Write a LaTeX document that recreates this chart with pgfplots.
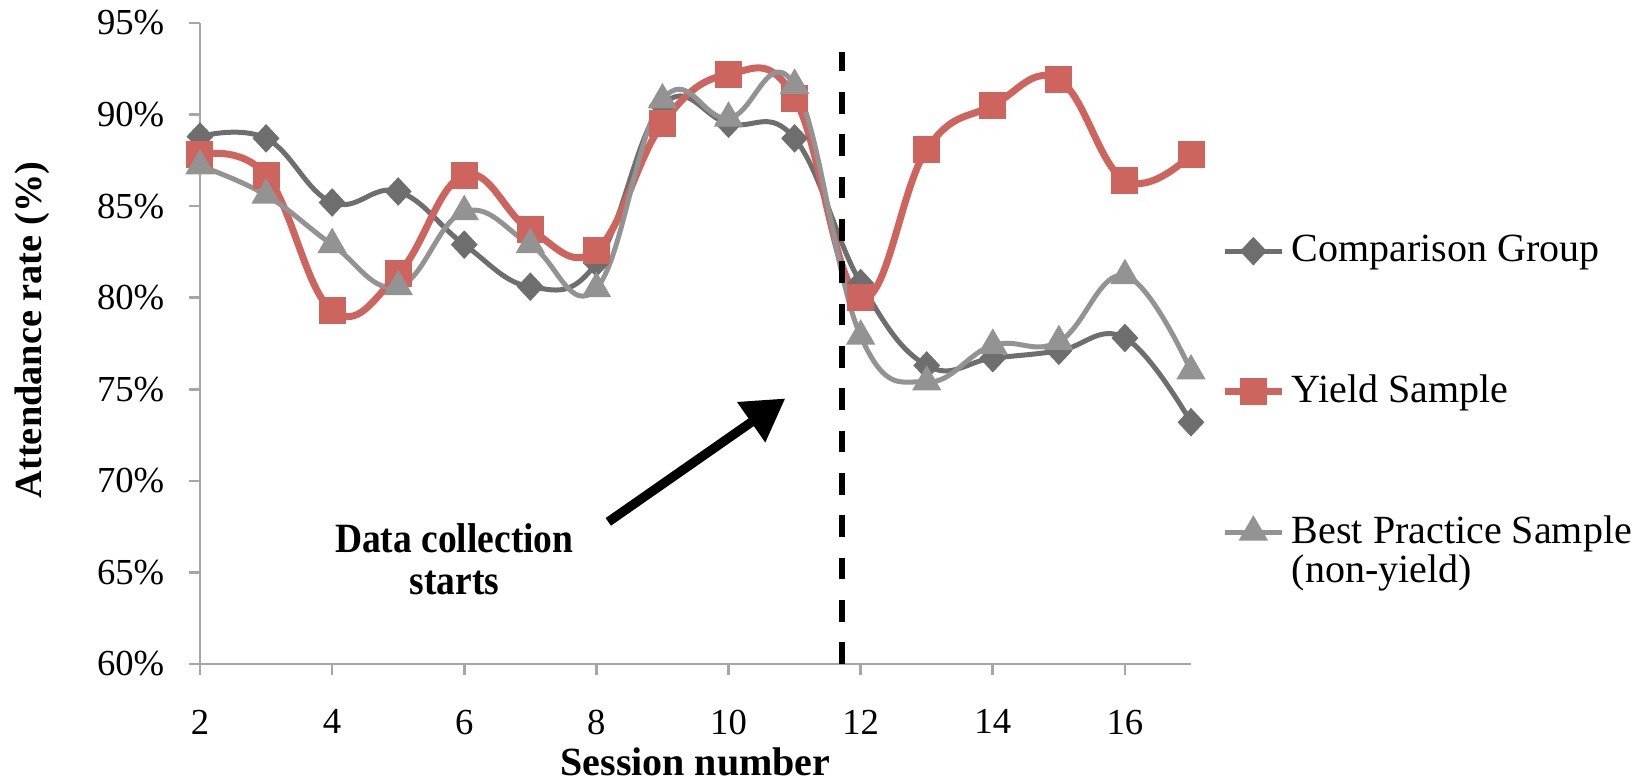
\documentclass[border=0pt]{standalone}
\usepackage{fontspec}
\setmainfont{Liberation Serif}
\usepackage{pgfplots}
\pgfplotsset{compat=1.18}
\usetikzlibrary{arrows.meta}

\definecolor{compgray}{RGB}{110,110,110}
\definecolor{yieldred}{RGB}{205,101,94}
\definecolor{bestgray}{RGB}{147,147,147}
\definecolor{axisgray}{RGB}{166,166,166}

\begin{document}
\begin{tikzpicture}
\begin{axis}[
  width=297.3pt, height=192.3pt, scale only axis,
  xmin=2, xmax=17, ymin=60, ymax=95,
  axis x line=bottom, axis y line=left,
  axis line style={draw=axisgray, line width=0.8pt, -},
  xtick={2,4,...,16}, ytick={60,65,...,95},
  yticklabel={\pgfmathprintnumber{\tick}\%},
  tick align=outside, major tick length=3.2pt,
  tick style={axisgray, line width=0.8pt},
  ticklabel style={font=\fontsize{11}{13}\selectfont},
  yticklabel style={xshift=-4pt},
  xticklabel style={yshift=-7pt},
  /pgf/number format/assume math mode=true,
  xlabel={Session number}, ylabel={Attendance rate (\%)},
  xlabel style={at={(axis description cs:0.5,0)}, anchor=base, yshift=-33.6pt,
    font=\bfseries\fontsize{12}{14}\selectfont},
  ylabel style={at={(axis description cs:-0.1695,0.521)}, anchor=center,
    font=\bfseries\fontsize{11.5}{14}\selectfont},
  clip=false,
  legend style={draw=none, fill=none, at={(1.03,0.68)}, anchor=north west,
    font=\fontsize{12}{11}\selectfont, row sep=28.4pt, inner sep=0pt,
    cells={anchor=west}},
]
\addplot[compgray, line width=1.5pt, smooth, tension=0.7, mark=diamond*, mark size=3.2pt,
  mark options={fill=compgray, draw=compgray, xscale=1.25}]
  coordinates {(2,88.8)(3,88.7)(4,85.2)(5,85.8)(6,82.9)(7,80.6)(8,81.9)(9,90.5)
    (10,89.5)(11,88.7)(12,80.8)(13,76.3)(14,76.7)(15,77.1)(16,77.8)(17,73.2)};
\addlegendentry{Comparison Group}
\addplot[yieldred, line width=2.1pt, smooth, tension=0.7, mark=square*, mark size=3pt,
  mark options={fill=yieldred, draw=yieldred}]
  coordinates {(2,87.8)(3,86.7)(4,79.3)(5,81.3)(6,86.7)(7,83.7)(8,82.6)(9,89.5)
    (10,92.2)(11,90.9)(12,80.0)(13,88.1)(14,90.5)(15,91.9)(16,86.4)(17,87.8)};
\addlegendentry{Yield Sample}
\addplot[bestgray, line width=1.5pt, smooth, tension=0.7, mark=triangle*, mark size=3.6pt,
  mark options={fill=bestgray, draw=bestgray}]
  coordinates {(2,87.2)(3,85.6)(4,82.9)(5,80.6)(6,84.7)(7,82.9)(8,80.5)(9,90.8)
    (10,89.8)(11,91.6)(12,77.9)(13,75.4)(14,77.4)(15,77.6)(16,81.2)(17,76.0)};
\addlegendentry{\raisebox{0pt}[\height][0pt]{\begin{tabular}[t]{@{}l@{}}Best Practice Sample\\(non-yield)\end{tabular}}}
% start of data collection
\addplot[black, line width=1.8pt, dash pattern=on 6.5pt off 6.2pt, forget plot]
  coordinates {(11.71,60) (11.71,93.4)};
\draw[-{Triangle[length=12.5pt,width=14pt]}, line width=2.8pt]
  (axis cs:8.18,67.76) -- (axis cs:10.86,74.5);
\node[font=\bfseries\fontsize{12.5}{12.6}\selectfont] at (axis cs:5.85,65.4)
  {\scalebox{0.9}[1]{\begin{tabular}{@{}c@{}}Data collection\\starts\end{tabular}}};
\coordinate (O) at (rel axis cs:0,0);
\end{axis}
\pgfresetboundingbox
\path[use as bounding box] ([shift={(-60pt,-35.7pt)}]O) rectangle ([shift={(430.5pt,199.2pt)}]O);
\end{tikzpicture}
\end{document}
